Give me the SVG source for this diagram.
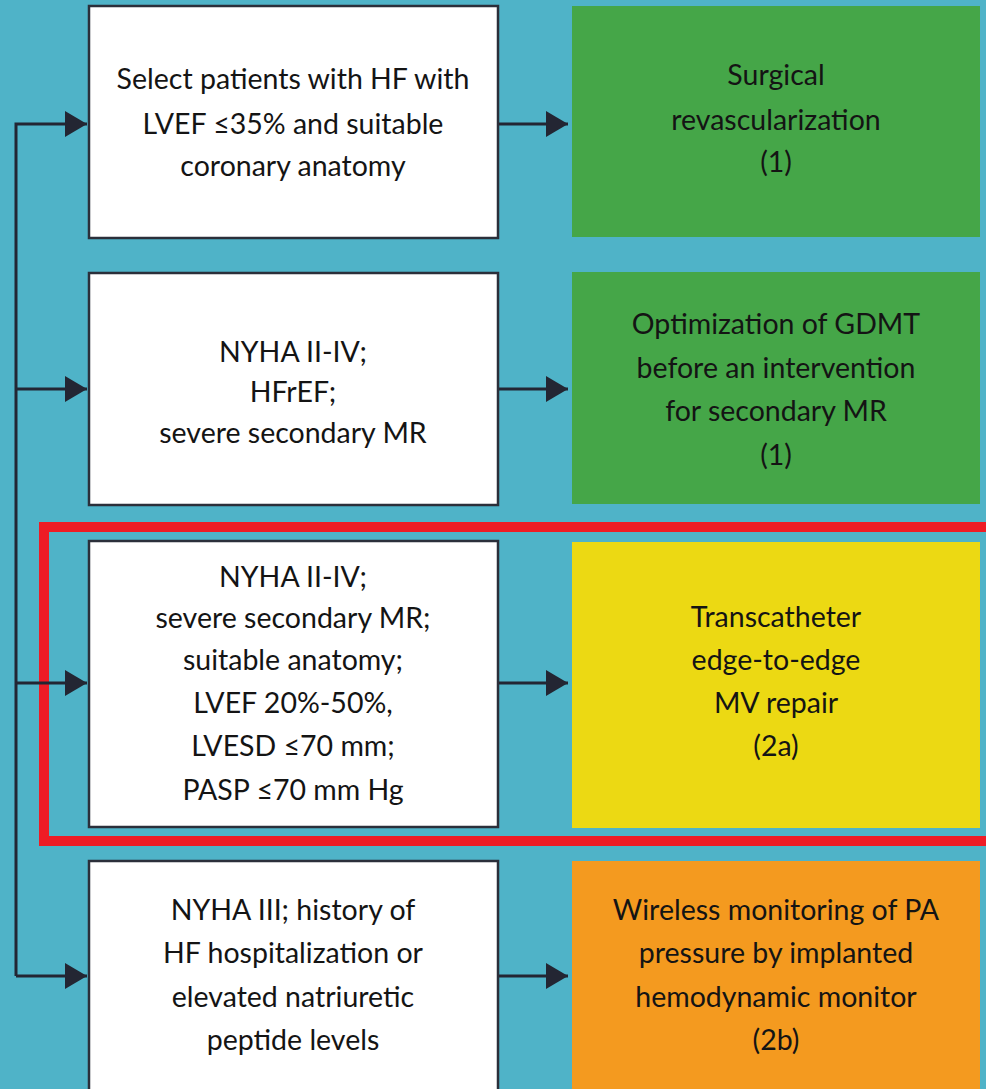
<svg xmlns="http://www.w3.org/2000/svg" width="986" height="1089" viewBox="0 0 986 1089">
<defs>
<style>
.bg{fill:#4fb3c8}
.box{fill:#ffffff;stroke:#2b2f3a;stroke-width:2.5}
.green{fill:#45a648}
.yellow{fill:#ecd913}
.orange{fill:#f49a1f}
.t{font-family:Lato,"Open Sans",sans-serif;font-size:28.5px;fill:#141414;text-anchor:middle}
.ln{stroke:#232633;stroke-width:3;fill:none}
</style>
<marker id="ah" viewBox="0 0 22 26" refX="22" refY="13" markerWidth="22" markerHeight="26" markerUnits="userSpaceOnUse" orient="auto">
<path d="M0,0 L22,13 L0,26 Z" fill="#232633"/>
</marker>
</defs>
<rect class="bg" x="0" y="0" width="986" height="1089"/>
<rect x="44" y="527" width="960" height="314" fill="none" stroke="#ee1c25" stroke-width="10"/>
<g id="connectors">
<path class="ln" d="M16,976 L16,124 L87,124" marker-end="url(#ah)"/>
<path class="ln" d="M16,389 L87,389" marker-end="url(#ah)"/>
<path class="ln" d="M16,683 L87,683" marker-end="url(#ah)"/>
<path class="ln" d="M16,976 L87,976" marker-end="url(#ah)"/>
<path class="ln" d="M498,124 L568,124" marker-end="url(#ah)"/>
<path class="ln" d="M498,389 L568,389" marker-end="url(#ah)"/>
<path class="ln" d="M498,683 L568,683" marker-end="url(#ah)"/>
<path class="ln" d="M498,976 L568,976" marker-end="url(#ah)"/>
</g>
<g id="n1">
<rect class="box" x="89" y="6" width="409" height="232"/>
<text class="t" x="293" y="89">Select patients with HF with</text>
<text class="t" x="293" y="134">LVEF ≤35% and suitable</text>
<text class="t" x="293" y="176">coronary anatomy</text>
</g>
<g id="n2">
<rect class="box" x="89" y="273" width="409" height="232"/>
<text class="t" x="293" y="362">NYHA II-IV;</text>
<text class="t" x="293" y="402">HFrEF;</text>
<text class="t" x="293" y="443">severe secondary MR</text>
</g>
<g id="n3">
<rect class="box" x="89" y="541" width="409" height="286"/>
<text class="t" x="293" y="587">NYHA II-IV;</text>
<text class="t" x="293" y="628">severe secondary MR;</text>
<text class="t" x="293" y="670">suitable anatomy;</text>
<text class="t" x="293" y="713">LVEF 20%-50%,</text>
<text class="t" x="293" y="756">LVESD ≤70 mm;</text>
<text class="t" x="293" y="800">PASP ≤70 mm Hg</text>
</g>
<g id="n4">
<rect class="box" x="89" y="861" width="409" height="240"/>
<text class="t" x="293" y="920">NYHA III; history of</text>
<text class="t" x="293" y="963">HF hospitalization or</text>
<text class="t" x="293" y="1007">elevated natriuretic</text>
<text class="t" x="293" y="1050">peptide levels</text>
</g>
<g id="r1">
<rect class="green" x="572" y="6" width="408" height="231"/>
<text class="t" x="776" y="85">Surgical</text>
<text class="t" x="776" y="130">revascularization</text>
<text class="t" x="776" y="172">(1)</text>
</g>
<g id="r2">
<rect class="green" x="572" y="272" width="408" height="232"/>
<text class="t" x="776" y="334">Optimization of GDMT</text>
<text class="t" x="776" y="378">before an intervention</text>
<text class="t" x="776" y="421">for secondary MR</text>
<text class="t" x="776" y="465">(1)</text>
</g>
<g id="r3">
<rect class="yellow" x="572" y="542" width="408" height="286"/>
<text class="t" x="776" y="627">Transcatheter</text>
<text class="t" x="776" y="670">edge-to-edge</text>
<text class="t" x="776" y="713">MV repair</text>
<text class="t" x="776" y="756">(2a)</text>
</g>
<g id="r4">
<rect class="orange" x="572" y="861" width="408" height="240"/>
<text class="t" x="776" y="920">Wireless monitoring of PA</text>
<text class="t" x="776" y="963">pressure by implanted</text>
<text class="t" x="776" y="1007">hemodynamic monitor</text>
<text class="t" x="776" y="1050">(2b)</text>
</g>
</svg>
